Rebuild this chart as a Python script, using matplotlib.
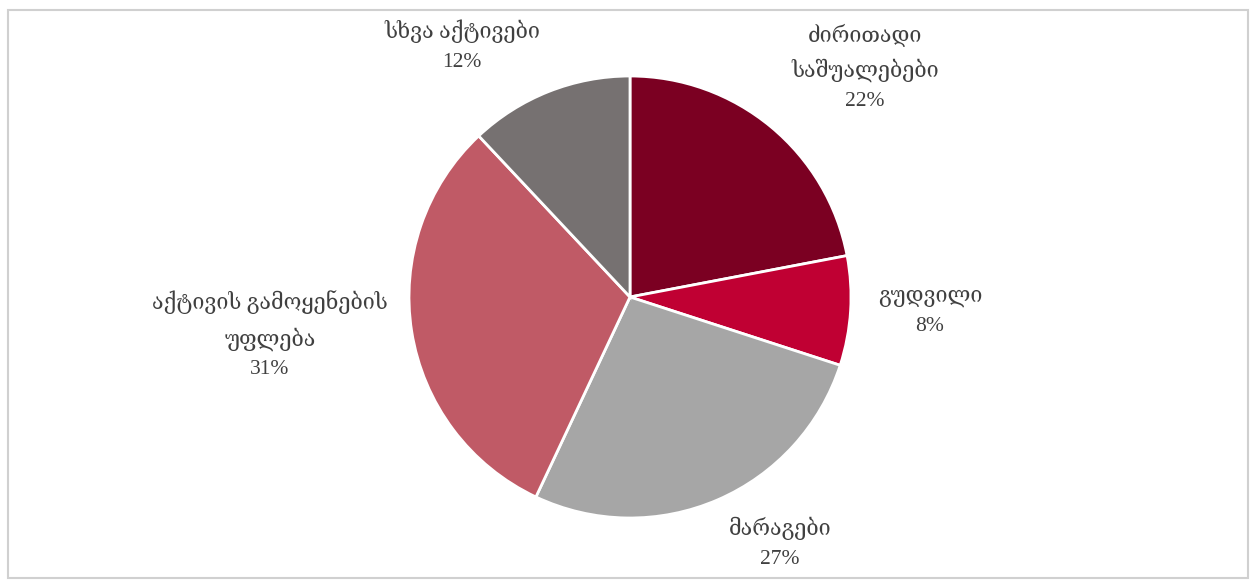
import matplotlib
matplotlib.use("Agg")
import matplotlib.pyplot as plt
from matplotlib.patches import Rectangle

# Asset structure shares (%)
categories = ["ძირითადი\nსაშუალებები", "გუდვილი", "მარაგები",
              "აქტივის გამოყენების\nუფლება", "სხვა აქტივები"]
shares = [22, 8, 27, 31, 12]
colors = ["#7B0022", "#C00033", "#A6A6A6", "#C05A66", "#767171"]

W, H = 1252, 581
fig = plt.figure(figsize=(W / 100, H / 100), dpi=100)
ax = fig.add_axes([0, 0, 1, 1])

# outer frame
ax.add_patch(Rectangle((7.5, 3), 1240, 568.5, fill=False,
                       edgecolor="#D0D0D0", linewidth=1.5))

cx, cy, r = 630, H - 297, 221
ax.pie(shares, colors=colors, startangle=90, counterclock=False,
       center=(cx, cy), radius=r, frame=True,
       wedgeprops=dict(edgecolor="white", linewidth=2))
ax.set_xlim(0, W)
ax.set_ylim(0, H)
ax.set_aspect("equal")
ax.axis("off")

# label offsets from the pie centre (pixels)
offsets = [(235, 230), (300, -15), (150, -246), (-360, -38), (-168, 251)]
font = dict(family=["Liberation Serif", "DejaVu Serif", "DejaVu Sans"],
            fontsize=15.5, color="#404040")
for name, val, (dx, dy) in zip(categories, shares, offsets):
    ax.text(cx + dx, cy + dy, f"{name}\n{val}%", ha="center", va="center",
            linespacing=1.7, **font)

fig.savefig("out.png", dpi=100, facecolor="white")
